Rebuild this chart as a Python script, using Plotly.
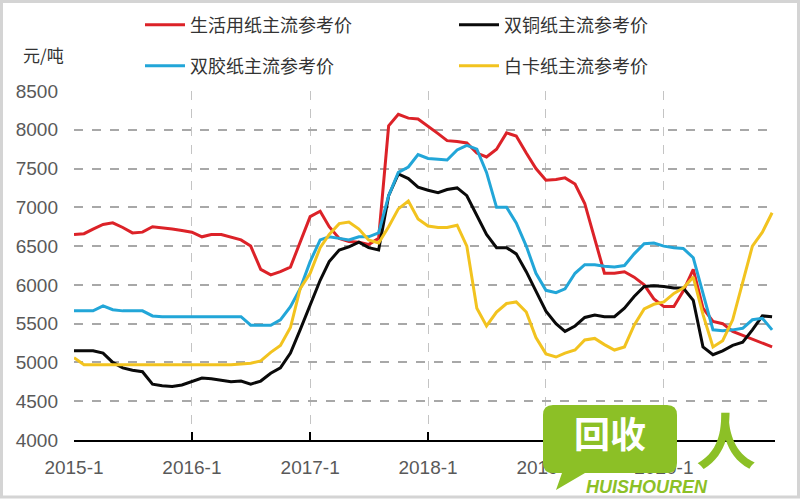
import plotly.graph_objects as go
import pandas as pd

# Monthly dates Jan 2015 - Dec 2020
dates = pd.date_range("2015-01-01", "2020-12-01", freq="MS").strftime("%Y-%m-%d").tolist()

red_tissue = [6650, 6660, 6720, 6780, 6800, 6740, 6670, 6680, 6750, 6740, 6720, 6700,
              6680, 6620, 6650, 6650, 6620, 6580, 6500, 6200, 6130, 6170, 6230, 6550,
              6880, 6950, 6750, 6600, 6560, 6550, 6520, 6600, 8050, 8200, 8150, 8140,
              8050, 7950, 7860, 7850, 7830, 7700, 7650, 7750, 7960, 7920, 7700, 7500,
              7350, 7360, 7380, 7300, 7050, 6600, 6150, 6150, 6170, 6100, 6000, 5820,
              5720, 5720, 5920, 6200, 5700, 5530, 5500, 5400, 5350, 5300, 5250, 5200]

black_coated = [5150, 5150, 5150, 5120, 5000, 4930, 4900, 4880, 4720, 4700, 4690, 4710,
                4760, 4800, 4790, 4770, 4750, 4760, 4720, 4760, 4860, 4930, 5120, 5420,
                5750, 6060, 6300, 6450, 6490, 6550, 6480, 6450, 7150, 7430, 7370, 7260,
                7220, 7190, 7230, 7250, 7150, 6900, 6650, 6480, 6480, 6400, 6170, 5920,
                5660, 5500, 5400, 5470, 5580, 5610, 5590, 5590, 5700, 5850, 5980, 5990,
                5980, 5960, 5960, 5800, 5200, 5100, 5150, 5220, 5260, 5420, 5600, 5590]

blue_offset = [5665, 5665, 5665, 5730, 5680, 5665, 5665, 5665, 5600, 5590, 5590, 5590,
               5590, 5590, 5590, 5590, 5590, 5590, 5480, 5480, 5480, 5550, 5720, 5950,
               6300, 6580, 6620, 6600, 6580, 6620, 6620, 6670, 7150, 7450, 7520, 7680,
               7630, 7620, 7610, 7740, 7800, 7750, 7450, 7000, 7000, 6800, 6500, 6150,
               5930, 5900, 5950, 6150, 6260, 6260, 6240, 6230, 6250, 6400, 6530, 6540,
               6500, 6480, 6470, 6350, 5900, 5420, 5410, 5420, 5440, 5550, 5570, 5420]

yellow_board = [5060, 4970, 4970, 4970, 4970, 4970, 4970, 4970, 4970, 4970, 4970, 4970,
                4970, 4970, 4970, 4970, 4970, 4980, 4990, 5020, 5130, 5220, 5450, 5950,
                6150, 6480, 6650, 6790, 6810, 6720, 6580, 6540, 6750, 6980, 7080, 6850,
                6760, 6740, 6740, 6770, 6500, 5700, 5470, 5650, 5760, 5780, 5650, 5320,
                5110, 5070, 5120, 5160, 5290, 5310, 5230, 5160, 5200, 5480, 5690, 5750,
                5780, 5890, 5960, 6100, 5620, 5200, 5280, 5550, 6050, 6500, 6680, 6930]

series_names = ["生活用纸主流参考价", "双铜纸主流参考价", "双胶纸主流参考价", "白卡纸主流参考价"]
series_values = [red_tissue, black_coated, blue_offset, yellow_board]
series_colors = ["#dc2228", "#0a0a0a", "#22a6d8", "#f2c31f"]
legend_ids = ["legend", "legend2", "legend3", "legend4"]

year_ticks = ["2015-01-01", "2016-01-01", "2017-01-01", "2018-01-01", "2019-01-01", "2020-01-01"]
year_labels = ["2015-1", "2016-1", "2017-1", "2018-1", "2019-1", "2020-1"]
y_ticks = [4000, 4500, 5000, 5500, 6000, 6500, 7000, 7500, 8000, 8500]

fig = go.Figure()
for name, vals, col, lg in zip(series_names, series_values, series_colors, legend_ids):
    fig.add_trace(go.Scatter(x=dates, y=vals, name=name, mode="lines",
                             line=dict(color=col, width=3), legend=lg))

W, H = 800, 500
L, R, T, B = 74, 25, 91, 60
PW, PH = W - L - R, H - T - B

def px(xp):
    return (xp - L) / PW

def py(yp):
    return (H - B - yp) / PH

leg_font = dict(family="Noto Sans CJK SC", size=18, color="#333333")
leg_pos = {"legend": (140, 25), "legend2": (454, 25), "legend3": (140, 66), "legend4": (454, 66)}
legends = {}
for lg, (lx, ly) in leg_pos.items():
    legends[lg] = dict(x=lx / W, y=1 - ly / H, xref="container", yref="container",
                       xanchor="left", yanchor="middle", font=leg_font,
                       bgcolor="rgba(0,0,0,0)", itemwidth=40, orientation="h")

tick_font = dict(family="Liberation Sans", size=19, color="#595959")

fig.update_layout(
    width=W, height=H,
    margin=dict(l=L, r=R, t=T, b=B, autoexpand=False),
    paper_bgcolor="white", plot_bgcolor="white",
    showlegend=True,
    xaxis=dict(range=["2015-01-01", "2020-12-10"], tickvals=year_ticks, ticktext=year_labels,
               showgrid=True, gridcolor="#c4c4c4", gridwidth=1.2, griddash="dash",
               showline=True, linecolor="#000000", linewidth=2,
               ticks="inside", ticklen=8, tickwidth=2, tickcolor="#000000",
               tickfont=tick_font, ticklabelstandoff=9, zeroline=False),
    yaxis=dict(range=[4000, 8500], tickvals=y_ticks, showgrid=True, gridcolor="#a8a8a8",
               gridwidth=1.5, griddash="dash", zeroline=False, showline=False,
               tickfont=tick_font, ticklabelstandoff=15),
    **legends,
)

# unit label
fig.add_annotation(text="元/吨", xref="paper", yref="paper", x=px(43), y=py(55),
                   xanchor="center", yanchor="middle",
                   showarrow=False, font=dict(family="Noto Sans CJK SC", size=17, color="#333333"))

# outer frame
fig.add_shape(type="rect", xref="paper", yref="paper", x0=px(1.5), x1=px(798.5),
              y0=py(497), y1=py(1.5), line=dict(color="#d4d4d4", width=3), layer="above")

# watermark logo
green = "#8cc026"
fig.add_shape(type="path", xref="paper", yref="paper",
              path=(f"M {px(553)} {py(405)} L {px(667)} {py(405)} Q {px(677)} {py(405)} {px(677)} {py(415)} "
                    f"L {px(677)} {py(463)} Q {px(677)} {py(473)} {px(667)} {py(473)} L {px(585)} {py(473)} "
                    f"L {px(556)} {py(490)} L {px(562)} {py(473)} L {px(553)} {py(473)} "
                    f"Q {px(543)} {py(473)} {px(543)} {py(463)} L {px(543)} {py(415)} "
                    f"Q {px(543)} {py(405)} {px(553)} {py(405)} Z"),
              fillcolor=green, line=dict(width=0), layer="above")
fig.add_annotation(text="<b>回收</b>", xref="paper", yref="paper", x=px(610), y=py(432),
                   xanchor="center", yanchor="middle",
                   showarrow=False, font=dict(family="Noto Sans CJK SC", size=36, color="white"))
fig.add_annotation(text="<b><i>HUISHOUREN</i></b>", xref="paper", yref="paper", x=px(647), y=py(487),
                   xanchor="center", yanchor="middle",
                   showarrow=False, font=dict(family="Liberation Sans", size=18, color=green))
fig.add_annotation(text="<b>人</b>", xref="paper", yref="paper", x=px(726), y=py(437),
                   xanchor="center", yanchor="middle",
                   showarrow=False, font=dict(family="Noto Sans CJK SC", size=60, color=green))

fig.write_html("out.html", config={"displayModeBar": False},
               post_script="document.body.style.margin='0';document.body.style.padding='0';")
